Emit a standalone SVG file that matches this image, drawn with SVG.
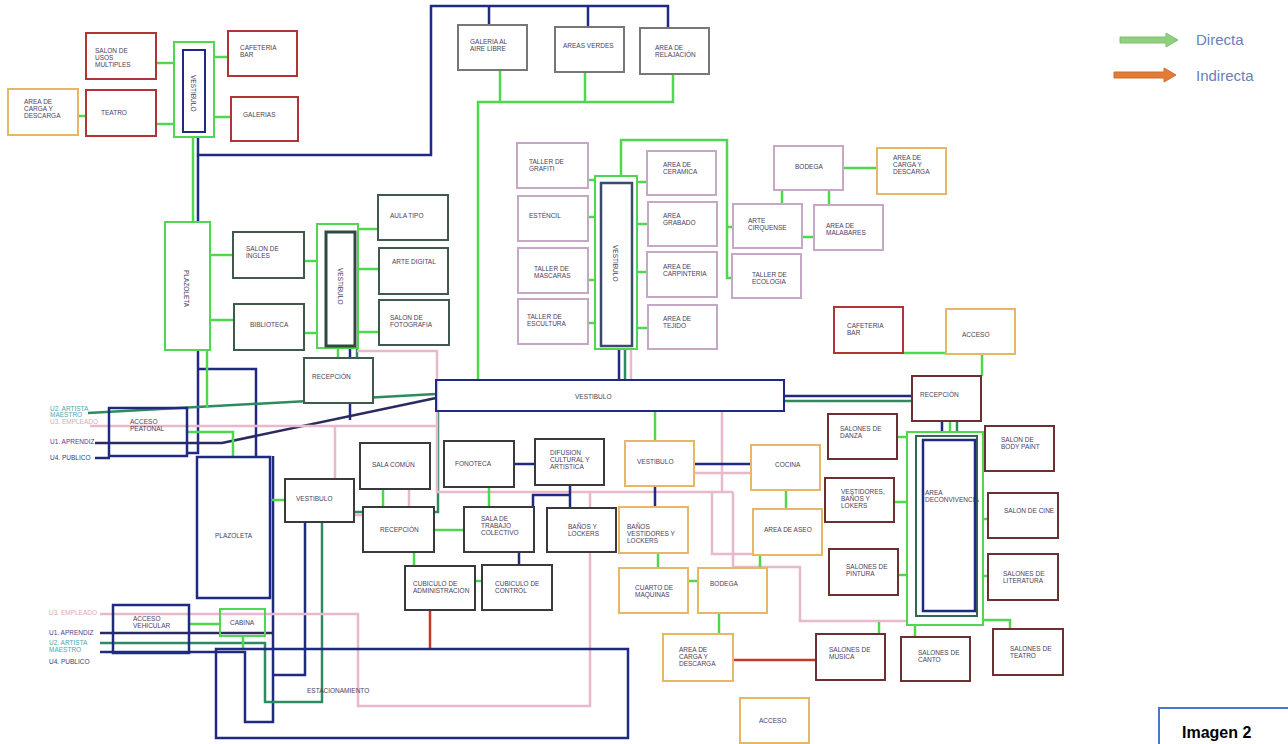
<svg xmlns="http://www.w3.org/2000/svg" width="1288" height="744" viewBox="0 0 1288 744">
<style>
text{font-family:"Liberation Sans",Arial,sans-serif;font-size:6.5px;fill:#4a4060}
.n{fill:#fff;stroke-width:2}
.red{stroke:#b03434}.org{stroke:#e6b865}.gry{stroke:#777}.dg{stroke:#3f5a4a}.mv{stroke:#c4a8c6}.br{stroke:#6b3030}.dk{stroke:#3a3a3e}.nv{stroke:#1f2a80}.gr{stroke:#4fd84f}
.c{fill:none;stroke-width:2.5}
.g{stroke:#4fd84f}.b{stroke:#1f2a80}.t{stroke:#2f8a60}.p{stroke:#e8b8cc}.r{stroke:#c0392b}.u1{stroke:#2a2a60}
</style>
<rect width="1288" height="744" fill="#fff"/>

<!-- connectors -->
<g id="connectors">
<polyline class="c b" points="198,132 198,155 431,155 431,6 668,6 668,28"/>
<polyline class="c b" points="489,6 489,25"/>
<polyline class="c b" points="588,6 588,27"/>
<polyline class="c b" points="198,155 198,453 187,453"/>
<polyline class="c b" points="197,369 256,369 256,456"/>
<polyline class="c b" points="350,346 350,420"/>
<polyline class="c b" points="273,456 273,722 245,722 245,652 100,652"/>
<polyline class="c b" points="273,675 305,675 305,522"/>
<polyline class="c u1" points="100,633 273,633"/>
<polyline class="c u1" points="95,443 222,443 436,398"/>
<polyline class="c b" points="95,458 110,458"/>
<polyline class="c t" points="88,413 436,394"/>
<polyline class="c t" points="100,643 265,643 265,702 322,702 322,512 438,512 438,411"/>
<polyline class="c t" points="357,347 357,400"/>
<polyline class="c b" points="784,396 942,396 942,440"/>
<polyline class="c t" points="784,401 957,401 957,436"/>
<polyline class="c b" points="619,349 619,380"/>
<polyline class="c t" points="625,349 625,380"/>
<polyline class="c p" points="631,349 631,380"/>
<polyline class="c p" points="90,426 437,426"/>
<polyline class="c p" points="357,351 437,351 437,492 733,492"/>
<polyline class="c p" points="335,426 335,515 409,515 409,489"/>
<polyline class="c p" points="590,492 590,706 358,706 358,614 100,614"/>
<polyline class="c p" points="712,492 712,554 755,554"/>
<polyline class="c p" points="733,492 733,567 800,567 800,621 907,621"/>
<polyline class="c p" points="722,411 722,492"/>
<polyline class="c p" points="685,473 751,473"/>
<line class="c g" x1="156" y1="63" x2="174" y2="63"/>
<line class="c g" x1="156" y1="124" x2="174" y2="124"/>
<line class="c g" x1="78" y1="116" x2="86" y2="116"/>
<line class="c g" x1="214" y1="57" x2="228" y2="57"/>
<line class="c g" x1="214" y1="117" x2="231" y2="117"/>
<line class="c g" x1="193" y1="137" x2="193" y2="222"/>
<polyline class="c g" points="500,70 500,102"/>
<polyline class="c g" points="585,72 585,102"/>
<polyline class="c g" points="673,74 673,102 478,102 478,380"/>
<line class="c g" x1="210" y1="255" x2="233" y2="255"/>
<line class="c g" x1="210" y1="320" x2="234" y2="320"/>
<line class="c g" x1="304" y1="261" x2="317" y2="261"/>
<line class="c g" x1="304" y1="333" x2="317" y2="333"/>
<line class="c g" x1="358" y1="229" x2="378" y2="229"/>
<line class="c g" x1="358" y1="269" x2="379" y2="269"/>
<line class="c g" x1="358" y1="332" x2="379" y2="332"/>
<line class="c g" x1="338" y1="348" x2="338" y2="358"/>
<line class="c g" x1="207" y1="350" x2="207" y2="408"/>
<line class="c g" x1="588" y1="180" x2="595" y2="180"/>
<line class="c g" x1="588" y1="217" x2="595" y2="217"/>
<line class="c g" x1="588" y1="280" x2="595" y2="280"/>
<line class="c g" x1="588" y1="323" x2="595" y2="323"/>
<line class="c g" x1="637" y1="182" x2="647" y2="182"/>
<line class="c g" x1="637" y1="224" x2="648" y2="224"/>
<line class="c g" x1="637" y1="272" x2="647" y2="272"/>
<line class="c g" x1="637" y1="328" x2="648" y2="328"/>
<polyline class="c g" points="621,176 621,140 727,140 727,278 732,278"/>
<line class="c g" x1="727" y1="227" x2="733" y2="227"/>
<line class="c g" x1="782" y1="190" x2="782" y2="204"/>
<line class="c g" x1="829" y1="190" x2="829" y2="205"/>
<line class="c g" x1="802" y1="237" x2="814" y2="237"/>
<line class="c g" x1="843" y1="168" x2="877" y2="168"/>
<line class="c g" x1="903" y1="353" x2="946" y2="353"/>
<line class="c g" x1="982" y1="354" x2="982" y2="376"/>
<line class="c g" x1="950" y1="421" x2="950" y2="432"/>
<line class="c g" x1="897" y1="437" x2="907" y2="437"/>
<line class="c g" x1="894" y1="502" x2="907" y2="502"/>
<line class="c g" x1="898" y1="575" x2="907" y2="575"/>
<line class="c g" x1="983" y1="519" x2="988" y2="519"/>
<line class="c g" x1="983" y1="576" x2="988" y2="576"/>
<line class="c g" x1="879" y1="622" x2="879" y2="634"/>
<line class="c g" x1="915" y1="625" x2="915" y2="637"/>
<polyline class="c g" points="983,620 1010,620 1010,629"/>
<polyline class="c g" points="187,432 233,432 233,458"/>
<line class="c g" x1="270" y1="500" x2="285" y2="500"/>
<line class="c g" x1="383" y1="489" x2="383" y2="507"/>
<line class="c g" x1="434" y1="530" x2="464" y2="530"/>
<line class="c g" x1="414" y1="552" x2="414" y2="566"/>
<line class="c g" x1="489" y1="487" x2="489" y2="507"/>
<line class="c g" x1="475" y1="581" x2="482" y2="581"/>
<line class="c b" x1="514" y1="464" x2="535" y2="464"/>
<line class="c b" x1="519" y1="552" x2="519" y2="565"/>
<polyline class="c b" points="570,485 570,508"/>
<polyline class="c b" points="570,495 533,495 533,507"/>
<line class="c b" x1="694" y1="464" x2="751" y2="464"/>
<line class="c b" x1="655" y1="486" x2="655" y2="507"/>
<line class="c g" x1="655" y1="411" x2="655" y2="441"/>
<line class="c g" x1="786" y1="490" x2="786" y2="509"/>
<line class="c g" x1="658" y1="553" x2="658" y2="568"/>
<line class="c g" x1="688" y1="581" x2="698" y2="581"/>
<line class="c g" x1="760" y1="555" x2="760" y2="568"/>
<line class="c g" x1="719" y1="613" x2="719" y2="634"/>
<line class="c r" x1="733" y1="660" x2="816" y2="660"/>
<line class="c r" x1="430" y1="610" x2="430" y2="650"/>
<line class="c g" x1="189" y1="624" x2="220" y2="624"/>
<line class="c g" x1="243" y1="636" x2="243" y2="650"/>
</g>

<!-- nodes -->
<g id="salon-usos"><rect class="n red" x="86" y="33" width="70" height="46"/><text x="95" y="53">SALON DE<tspan x="95" dy="7">USOS</tspan><tspan x="95" dy="7">MULTIPLES</tspan></text></g>
<g id="teatro"><rect class="n red" x="86" y="90" width="70" height="46"/><text x="101" y="115">TEATRO</text></g>
<g id="carga-1"><rect class="n org" x="8" y="89" width="70" height="46"/><text x="24" y="104">AREA DE<tspan x="24" dy="7">CARGA Y</tspan><tspan x="24" dy="7">DESCARGA</tspan></text></g>
<g id="vestibulo-1"><rect class="n gr" x="174" y="42" width="40" height="95"/><rect x="183" y="50" width="22" height="82" fill="#fff" stroke="#1f2a80" stroke-width="2"/><text transform="translate(191,75) rotate(90)">VESTIBULO</text></g>
<g id="cafeteria-1"><rect class="n red" x="228" y="31" width="69" height="45"/><text x="240" y="50">CAFETERIA<tspan x="240" dy="7">BAR</tspan></text></g>
<g id="galerias"><rect class="n red" x="231" y="97" width="67" height="44"/><text x="243" y="117">GALERIAS</text></g>
<g id="galeria-aire"><rect class="n gry" x="458" y="25" width="69" height="45"/><text x="470" y="44">GALERIA AL<tspan x="470" dy="7">AIRE LIBRE</tspan></text></g>
<g id="areas-verdes"><rect class="n gry" x="555" y="27" width="69" height="45"/><text x="563" y="48">AREAS VERDES</text></g>
<g id="relajacion"><rect class="n gry" x="640" y="28" width="69" height="46"/><text x="655" y="50">AREA DE<tspan x="655" dy="7">RELAJACIÓN</tspan></text></g>
<g id="plazoleta-1"><rect class="n gr" x="165" y="222" width="45" height="128"/><text transform="translate(184,270) rotate(90)">PLAZOLETA</text></g>
<g id="ingles"><rect class="n dg" x="233" y="232" width="71" height="46"/><text x="246" y="251">SALON DE<tspan x="246" dy="7">INGLES</tspan></text></g>
<g id="biblioteca"><rect class="n dg" x="234" y="304" width="70" height="46"/><text x="250" y="327">BIBLIOTECA</text></g>
<g id="vestibulo-2"><rect class="n gr" x="317" y="224" width="41" height="124" stroke-width="3"/><rect x="326" y="232" width="29" height="114" fill="#fff" stroke="#2d4a3a" stroke-width="3"/><text transform="translate(338,268) rotate(90)">VESTIBULO</text></g>
<g id="aula-tipo"><rect class="n dg" x="378" y="195" width="70" height="45"/><text x="390" y="218">AULA TIPO</text></g>
<g id="arte-digital"><rect class="n dg" x="379" y="248" width="69" height="46"/><text x="392" y="264">ARTE DIGITAL</text></g>
<g id="fotografia"><rect class="n dg" x="379" y="300" width="70" height="45"/><text x="390" y="320">SALON DE<tspan x="390" dy="7">FOTOGRAFIA</tspan></text></g>
<g id="recepcion-1"><rect class="n dg" x="304" y="358" width="69" height="45"/><text x="312" y="379">RECEPCIÓN</text></g>
<g id="vestibulo-bar"><rect x="436" y="380" width="348" height="31" fill="none" stroke="#1f2a80" stroke-width="2"/><text x="575" y="399">VESTIBULO</text></g>
<g id="grafiti"><rect class="n mv" x="517" y="143" width="71" height="45"/><text x="529" y="164">TALLER DE<tspan x="529" dy="7">GRAFITI</tspan></text></g>
<g id="estencil"><rect class="n mv" x="518" y="196" width="70" height="45"/><text x="529" y="218">ESTÉNCIL</text></g>
<g id="mascaras"><rect class="n mv" x="518" y="248" width="70" height="45"/><text x="534" y="271">TALLER DE<tspan x="534" dy="7">MASCARAS</tspan></text></g>
<g id="escultura"><rect class="n mv" x="518" y="299" width="70" height="45"/><text x="527" y="319">TALLER DE<tspan x="527" dy="7">ESCULTURA</tspan></text></g>
<g id="vestibulo-3"><rect class="n gr" x="595" y="176" width="42" height="173" stroke-width="3"/><rect x="601" y="183" width="31" height="163" fill="#fff" stroke="#3a4a6a" stroke-width="2.5"/><text transform="translate(613,245) rotate(90)">VESTIBULO</text></g>
<g id="ceramica"><rect class="n mv" x="647" y="151" width="69" height="44"/><text x="663" y="167">AREA DE<tspan x="663" dy="7">CERAMICA</tspan></text></g>
<g id="grabado"><rect class="n mv" x="648" y="202" width="69" height="44"/><text x="663" y="218">AREA<tspan x="663" dy="7">GRABADO</tspan></text></g>
<g id="carpinteria"><rect class="n mv" x="647" y="252" width="70" height="45"/><text x="663" y="269">AREA DE<tspan x="663" dy="7">CARPINTERIA</tspan></text></g>
<g id="tejido"><rect class="n mv" x="648" y="305" width="69" height="44"/><text x="663" y="321">AREA DE<tspan x="663" dy="7">TEJIDO</tspan></text></g>
<g id="bodega-1"><rect class="n mv" x="774" y="146" width="69" height="44"/><text x="795" y="169">BODEGA</text></g>
<g id="cirquense"><rect class="n mv" x="733" y="204" width="69" height="44"/><text x="748" y="223">ARTE<tspan x="748" dy="7">CIRQUENSE</tspan></text></g>
<g id="malabares"><rect class="n mv" x="814" y="205" width="69" height="45"/><text x="826" y="228">AREA DE<tspan x="826" dy="7">MALABARES</tspan></text></g>
<g id="ecologia"><rect class="n mv" x="732" y="254" width="69" height="44"/><text x="752" y="277">TALLER DE<tspan x="752" dy="7">ECOLOGIA</tspan></text></g>
<g id="carga-2"><rect class="n org" x="877" y="148" width="69" height="46"/><text x="893" y="160">AREA DE<tspan x="893" dy="7">CARGA Y</tspan><tspan x="893" dy="7">DESCARGA</tspan></text></g>
<g id="cafeteria-2"><rect class="n red" x="834" y="307" width="69" height="46"/><text x="847" y="328">CAFETERIA<tspan x="847" dy="7">BAR</tspan></text></g>
<g id="acceso-1"><rect class="n org" x="946" y="309" width="69" height="45"/><text x="962" y="337">ACCESO</text></g>
<g id="recepcion-3"><rect class="n br" x="912" y="376" width="69" height="45"/><text x="920" y="397">RECEPCIÓN</text></g>
<g id="convivencia"><rect class="n gr" x="907" y="432" width="76" height="193" stroke-width="3"/><rect x="916" y="436" width="61" height="180" fill="none" stroke="#2f6a50" stroke-width="2"/><rect x="923" y="440" width="52" height="171" fill="#fff" stroke="#1f2a80" stroke-width="2.5"/><text x="925" y="495">AREA<tspan x="925" dy="7">DECONVIVENCIA</tspan></text></g>
<g id="danza"><rect class="n br" x="828" y="414" width="69" height="45"/><text x="840" y="431">SALONES DE<tspan x="840" dy="7">DANZA</tspan></text></g>
<g id="vestidores-1"><rect class="n br" x="825" y="478" width="69" height="44"/><text x="841" y="494">VESTIDORES,<tspan x="841" dy="7">BAÑOS Y</tspan><tspan x="841" dy="7">LOKERS</tspan></text></g>
<g id="pintura"><rect class="n br" x="829" y="549" width="69" height="46"/><text x="846" y="569">SALONES DE<tspan x="846" dy="7">PINTURA</tspan></text></g>
<g id="musica"><rect class="n br" x="816" y="634" width="69" height="46"/><text x="829" y="652">SALONES DE<tspan x="829" dy="7">MUSICA</tspan></text></g>
<g id="canto"><rect class="n br" x="901" y="637" width="69" height="44"/><text x="918" y="655">SALONES DE<tspan x="918" dy="7">CANTO</tspan></text></g>
<g id="teatro-2"><rect class="n br" x="993" y="629" width="70" height="46"/><text x="1010" y="651">SALONES DE<tspan x="1010" dy="7">TEATRO</tspan></text></g>
<g id="body-paint"><rect class="n br" x="985" y="426" width="69" height="45"/><text x="1001" y="442">SALON DE<tspan x="1001" dy="7">BODY PAINT</tspan></text></g>
<g id="cine"><rect class="n br" x="988" y="493" width="70" height="45"/><text x="1004" y="513">SALON DE CINE</text></g>
<g id="literatura"><rect class="n br" x="988" y="554" width="70" height="46"/><text x="1003" y="576">SALONES DE<tspan x="1003" dy="7">LITERATURA</tspan></text></g>
<g id="acceso-peatonal"><rect x="109" y="408" width="78" height="48" fill="none" stroke="#1f2a80" stroke-width="2.5"/><text x="130" y="424">ACCESO<tspan x="130" dy="7">PEATONAL</tspan></text></g>
<g id="plazoleta-2"><rect x="197" y="457" width="73" height="141" fill="none" stroke="#1f2a80" stroke-width="2.5"/><text x="215" y="538">PLAZOLETA</text></g>
<g id="vestibulo-4"><rect class="n dk" x="285" y="479" width="69" height="43"/><text x="296" y="501">VESTIBULO</text></g>
<g id="sala-comun"><rect class="n dk" x="360" y="443" width="70" height="46"/><text x="372" y="467">SALA COMÚN</text></g>
<g id="recepcion-2"><rect class="n dk" x="363" y="507" width="71" height="45"/><text x="380" y="532">RECEPCIÓN</text></g>
<g id="fonoteca"><rect class="n dk" x="444" y="441" width="70" height="46"/><text x="455" y="466">FONOTECA</text></g>
<g id="difusion"><rect class="n dk" x="535" y="439" width="69" height="46"/><text x="550" y="455">DIFUSION<tspan x="550" dy="7">CULTURAL Y</tspan><tspan x="550" dy="7">ARTISTICA</tspan></text></g>
<g id="sala-trabajo"><rect class="n dk" x="464" y="507" width="70" height="45"/><text x="481" y="521">SALA DE<tspan x="481" dy="7">TRABAJO</tspan><tspan x="481" dy="7">COLECTIVO</tspan></text></g>
<g id="banos-lockers"><rect class="n dk" x="547" y="508" width="69" height="44"/><text x="568" y="529">BAÑOS Y<tspan x="568" dy="7">LOCKERS</tspan></text></g>
<g id="cub-admin"><rect class="n dk" x="405" y="566" width="70" height="44"/><text x="413" y="586">CUBICULO DE<tspan x="413" dy="7">ADMINISTRACION</tspan></text></g>
<g id="cub-control"><rect class="n dk" x="482" y="565" width="70" height="45"/><text x="495" y="586">CUBICULO DE<tspan x="495" dy="7">CONTROL</tspan></text></g>
<g id="vestibulo-5"><rect class="n org" x="625" y="441" width="69" height="45"/><text x="637" y="464">VESTIBULO</text></g>
<g id="cocina"><rect class="n org" x="751" y="445" width="69" height="45"/><text x="775" y="467">COCINA</text></g>
<g id="banos-vestidores"><rect class="n org" x="619" y="507" width="69" height="46"/><text x="627" y="529">BAÑOS<tspan x="627" dy="7">VESTIDORES Y</tspan><tspan x="627" dy="7">LOCKERS</tspan></text></g>
<g id="aseo"><rect class="n org" x="753" y="509" width="69" height="46"/><text x="764" y="532">AREA DE ASEO</text></g>
<g id="maquinas"><rect class="n org" x="619" y="568" width="69" height="45"/><text x="635" y="590">CUARTO DE<tspan x="635" dy="7">MAQUINAS</tspan></text></g>
<g id="bodega-2"><rect class="n org" x="698" y="568" width="69" height="45"/><text x="710" y="586">BODEGA</text></g>
<g id="carga-3"><rect class="n org" x="663" y="634" width="70" height="47"/><text x="679" y="652">AREA DE<tspan x="679" dy="7">CARGA Y</tspan><tspan x="679" dy="7">DESCARGA</tspan></text></g>
<g id="acceso-2"><rect class="n org" x="740" y="698" width="69" height="45"/><text x="759" y="723">ACCESO</text></g>
<g id="acceso-vehicular"><rect x="113" y="605" width="76" height="48" fill="none" stroke="#1f2a80" stroke-width="2.5"/><text x="133" y="621">ACCESO<tspan x="133" dy="7">VEHICULAR</tspan></text></g>
<g id="cabina"><rect class="gr" x="220" y="609" width="45" height="27" fill="none" stroke-width="2"/><text x="230" y="625">CABINA</text></g>
<g id="estacionamiento"><rect x="216" y="649" width="412" height="89" fill="none" stroke="#1f2a80" stroke-width="2.5"/><text x="307" y="693">ESTACIONAMIENTO</text></g>

<g id="users-top">
<text x="50" y="411" style="fill:#4aa8b0">U2. ARTISTA<tspan x="50" dy="6">MAESTRO</tspan></text>
<text x="50" y="424" style="fill:#e0a8b0">U3. EMPLEADO</text>
<text x="50" y="444" style="fill:#5a3a8a">U1. APRENDIZ</text>
<text x="50" y="460" style="fill:#3a3a7a">U4. PUBLICO</text>
</g>
<g id="users-bottom">
<text x="49" y="615" style="fill:#e0a8b0">U3. EMPLEADO</text>
<text x="49" y="635" style="fill:#5a3a8a">U1. APRENDIZ</text>
<text x="49" y="645" style="fill:#4aa8b0">U2. ARTISTA<tspan x="49" dy="7">MAESTRO</tspan></text>
<text x="49" y="664" style="fill:#3a3a7a">U4. PUBLICO</text>
</g>

<g id="legend">
<path d="M1120,37 H1166 V33 L1178,40 L1166,47 V43 H1120 Z" fill="#8fd07f" stroke="#7fc070" stroke-width="1" stroke-linejoin="round"/>
<text x="1196" y="45" style="font-size:15px;fill:#6a80b8">Directa</text>
<path d="M1114,72 H1164 V68 L1176,75 L1164,82 V78 H1114 Z" fill="#e07b39" stroke="#d06a2a" stroke-width="1" stroke-linejoin="round"/>
<text x="1196" y="81" style="font-size:15px;fill:#6a80b8">Indirecta</text>
</g>
<g id="caption">
<rect x="1159" y="708" width="140" height="40" fill="#fff" stroke="#4a78c8" stroke-width="2"/>
<text x="1182" y="738" style="font-size:16px;font-weight:bold;fill:#000">Imagen 2</text>
</g>
</svg>
